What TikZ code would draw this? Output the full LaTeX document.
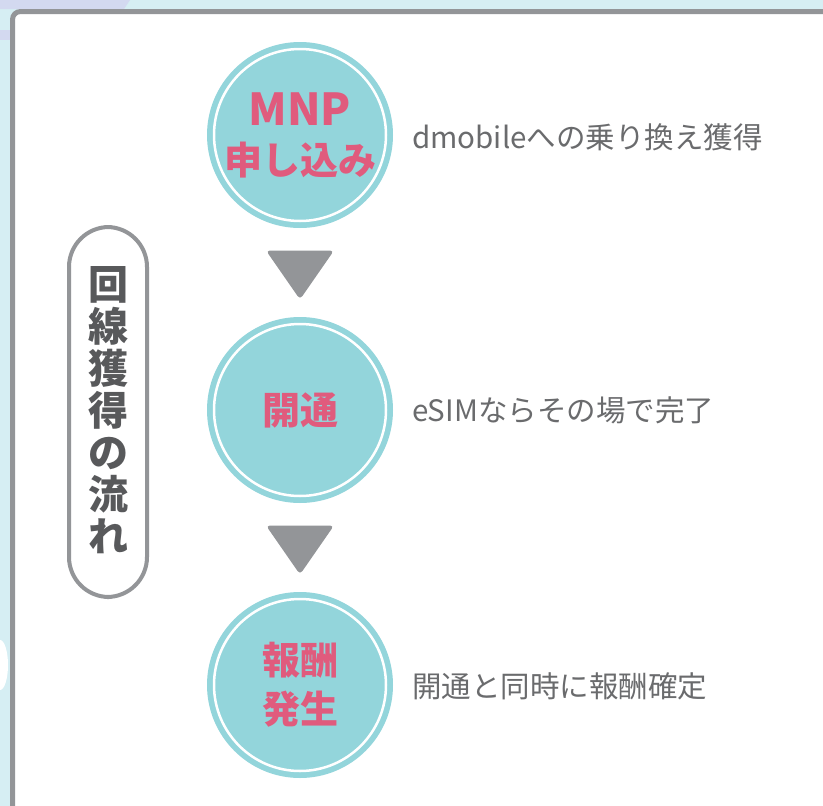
\documentclass[tikz,border=0pt]{standalone}
\usepackage{fontspec}
\setmainfont{Noto Sans CJK JP}
\usetikzlibrary{calc}
\definecolor{bgcyan}{HTML}{D6EEF3}
\definecolor{lavender}{HTML}{D3D9F0}
\definecolor{framegray}{HTML}{939598}
\definecolor{stepcyan}{HTML}{93D5DB}
\definecolor{steppink}{HTML}{E05B7D}
\definecolor{textgray}{HTML}{6A6B6D}
\definecolor{titlegray}{HTML}{58595B}
\begin{document}
\begin{tikzpicture}[x=1pt, y=-1pt]

\tikzstyle{stepc}=[circle, fill=stepcyan, minimum size=186pt, inner sep=0pt, text=steppink, font=\fontsize{38}{49}\selectfont\bfseries, align=center];
\tikzstyle{ring}=[draw=white, line width=2.5pt];
\tikzstyle{note}=[anchor=west, inner sep=0pt, text=textgray, font=\fontsize{29.5}{32}\selectfont];
\tikzstyle{tri}=[fill=framegray, rounded corners=4pt];

% background and frame
\useasboundingbox (0,0) rectangle (823,806);
\clip (0,0) rectangle (823,806);
\fill[bgcyan] (0,0) rectangle (823,806);
\fill[lavender] (0,0) -- (130,0) -- (124,9) -- (0,9) -- cycle;
\fill[lavender] (0,30) rectangle (12,40);
\fill[white] (0,690) arc (90:-90:8 and 25);
\draw[framegray, fill=white, line width=5pt, rounded corners=8pt] (12.5,11.5) rectangle (850,840);

% title pill
\node[draw=framegray, line width=4pt, fill=white, rounded corners=40pt, minimum width=78pt, minimum height=370pt] (title) at (108,412) {};
\node[text=titlegray, font=\fontsize{40}{42}\selectfont\bfseries, align=center] (titletext) at ([yshift=2]title) {回\\線\\獲\\得\\の\\流\\れ};

% steps
\node[stepc] (mnp) at (300,135) {{\fontsize{44}{49}\selectfont MNP}\\申し込み};
\node[stepc] (kaitsu) at (300,410) {開通};
\node[stepc] (hoshu) at (300,685) {報酬\\発生};
\foreach \s in {mnp, kaitsu, hoshu}
  \draw[ring] (\s) circle (86pt);

% arrows
\coordinate (m1) at ($(mnp)!0.5!(kaitsu)+(0,2)$);
\coordinate (m2) at ($(kaitsu)!0.5!(hoshu)+(0,2)$);
\foreach \m in {m1, m2}
  \fill[tri] ($(\m)+(-34,-24)$) -- ($(\m)+(34,-24)$) -- ($(\m)+(0,25)$) -- cycle;

% notes
\node[note] (n1) at (412,137) {dmobileへの乗り換え獲得};
\node[note] (n2) at (412,410) {eSIMならその場で完了};
\node[note] (n3) at (412,686) {開通と同時に報酬確定};
\end{tikzpicture}
\end{document}
